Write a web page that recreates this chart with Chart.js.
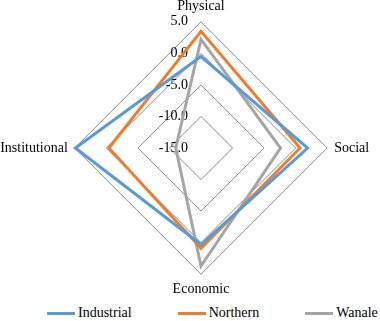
<!DOCTYPE html>
<html>
<head>
<meta charset="utf-8">
<script src="https://cdn.jsdelivr.net/npm/chart.js@4/dist/chart.umd.min.js"></script>
<style>
html,body{margin:0;padding:0;background:#fff;overflow:hidden;width:380px;height:321px;position:relative;}
#wrap{position:absolute;left:-11px;top:-1px;width:402px;height:300px;}
#legend{position:absolute;left:47px;top:304px;height:18px;display:flex;align-items:center;gap:46px;
  font-family:'Liberation Serif','Times New Roman',serif;font-size:14px;color:#000;}
#legend .item{display:flex;align-items:center;white-space:nowrap;}
#legend .swatch{width:28px;height:3px;margin-right:3px;}
</style>
</head>
<body>
<div id="wrap"><canvas id="c"></canvas></div>
<div id="legend"></div>
<script>
const categories = ['Physical', 'Social', 'Economic', 'Institutional'];
const industrial = [-0.5, 1.9, 0.3, 4.9];
const northern = [3.5, 0.7, 0.9, -0.4];
const wanale = [2.2, -2.4, 3.7, -11.0];
const tickLabels = ['-15.0', '-10.0', '-5.0', '0.0', '5.0'];
const seriesNames = ['Industrial', 'Northern', 'Wanale'];
const colors = ['#5B9BD5', '#ED7D31', '#A5A5A5'];

const FONT = "'Liberation Serif', 'Times New Roman', serif";

const tickPlugin = {
  id: 'tickLabelsLeft',
  beforeDatasetsDraw(chart) {
    const s = chart.scales.r;
    const ctx = chart.ctx;
    ctx.save();
    ctx.font = '14px ' + FONT;
    ctx.fillStyle = '#000';
    ctx.textAlign = 'right';
    ctx.textBaseline = 'middle';
    s.ticks.forEach((t, i) => {
      const d = s.getDistanceFromCenterForValue(t.value);
      ctx.fillText(tickLabels[i], s.xCenter - 13, s.yCenter - d);
    });
    ctx.restore();
  }
};

const data = [industrial, northern, wanale];
const chart = new Chart(document.getElementById('c'), {
  type: 'radar',
  data: {
    labels: categories,
    datasets: seriesNames.map((n, i) => ({
      label: n,
      data: data[i],
      borderColor: colors[i],
      backgroundColor: colors[i],
      borderWidth: 3,
      pointRadius: 0,
      pointHoverRadius: 0,
      fill: false,
      tension: 0
    }))
  },
  options: {
    responsive: true,
    maintainAspectRatio: false,
    animation: false,
    layout: { padding: 0 },
    scales: {
      r: {
        min: -15,
        max: 5,
        ticks: { stepSize: 5, display: false },
        grid: { color: '#888888', lineWidth: 1 },
        angleLines: { display: false },
        pointLabels: {
          font: { family: FONT, size: 14 },
          color: '#000',
          padding: 7
        }
      }
    },
    plugins: {
      legend: { display: false },
      tooltip: { enabled: false }
    }
  },
  plugins: [tickPlugin]
});

const legendEl = document.getElementById('legend');
chart.data.datasets.forEach(ds => {
  const item = document.createElement('div');
  item.className = 'item';
  const sw = document.createElement('span');
  sw.className = 'swatch';
  sw.style.background = ds.borderColor;
  const tx = document.createElement('span');
  tx.textContent = ds.label;
  item.appendChild(sw);
  item.appendChild(tx);
  legendEl.appendChild(item);
});
</script>
</body>
</html>
